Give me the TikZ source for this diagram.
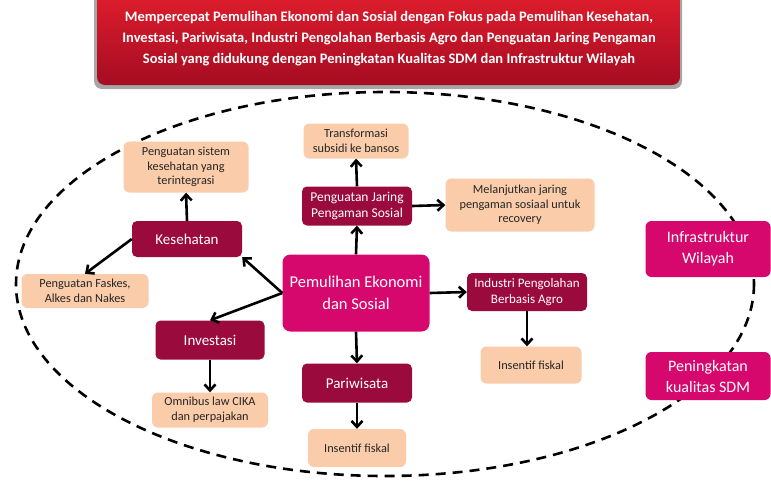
\documentclass[tikz,border=0pt]{standalone}
\usepackage{fontspec}
\setmainfont{Carlito}
\usetikzlibrary{arrows.meta}

\definecolor{peach}{RGB}{250,204,170}
\definecolor{crimson}{RGB}{155,10,60}
\definecolor{pinkish}{RGB}{214,8,110}
\definecolor{bannertop}{RGB}{225,30,45}
\definecolor{bannerbot}{RGB}{165,12,35}

\begin{document}
\begin{tikzpicture}[x=1pt, y=-1pt, >={Straight Barb[length=6pt,width=11pt]},
  note/.style={fill=peach, rounded corners=6pt, align=center, inner sep=1pt, font=\fontsize{12.3}{14.5}\selectfont, text=black!85},
  branch/.style={fill=crimson, rounded corners=5pt, align=center, inner sep=1pt, text=white, font=\fontsize{15}{18}\selectfont},
  hub/.style={fill=pinkish, rounded corners=8pt, align=center, inner sep=1pt, text=white, font=\fontsize{16.5}{22}\selectfont},
  link/.style={->, line width=2.6pt, black}]
  \useasboundingbox (0,0) rectangle (771,480);

  % banner
  \fill [black!35, rounded corners=8pt] (94,-10) rectangle (682,89);
  \shade [top color=bannertop, bottom color=bannerbot, rounded corners=8pt] (97,-10) rectangle (680,85);
  \node [text=white, align=center, font=\bfseries\fontsize{14.5}{21}\selectfont] (title) at (389,39)
    {Mempercepat Pemulihan Ekonomi dan Sosial dengan Fokus pada Pemulihan Kesehatan,\\
     Investasi, Pariwisata, Industri Pengolahan Berbasis Agro dan Penguatan Jaring Pengaman\\
     Sosial yang didukung dengan Peningkatan Kualitas SDM dan Infrastruktur Wilayah};

  % dashed frame
  \draw [line width=2.6pt, dash pattern=on 10pt off 7pt] (385,284) ellipse [x radius=369, y radius=192];

  % centre
  \node [hub, minimum width=147pt, minimum height=77pt] (pes) at (356,293) {Pemulihan Ekonomi\\dan Sosial};

  % kesehatan
  \node [branch, minimum width=110pt, minimum height=36pt] (kes) at (187,239) {Kesehatan};
  \node [note, minimum width=125pt, minimum height=51pt] (kesup) at (186,167) {Penguatan sistem\\kesehatan yang\\terintegrasi};
  \node [note, minimum width=127pt, minimum height=34pt] (faskes) at (85,291) {Penguatan Faskes,\\Alkes dan Nakes};

  % investasi
  \node [branch, minimum width=109pt, minimum height=39pt] (inv) at (210,340) {Investasi};
  \node [note, minimum width=116pt, minimum height=35pt] (omni) at (210,410) {Omnibus law CIKA\\dan perpajakan};

  % pariwisata
  \node [branch, minimum width=110pt, minimum height=39pt] (pari) at (357,383) {Pariwisata};
  \node [note, minimum width=98pt, minimum height=38pt] (parifis) at (357,448) {Insentif fiskal};

  % jaring pengaman
  \node [branch, minimum width=110pt, minimum height=39pt, font=\fontsize{13.5}{16.5}\selectfont] (jps) at (357,206) {Penguatan Jaring\\Pengaman Sosial};
  \node [note, minimum width=105pt, minimum height=35pt] (trans) at (356,141) {Transformasi\\subsidi ke bansos};
  \node [note, minimum width=149pt, minimum height=53pt] (lanjut) at (520,205) {Melanjutkan jaring\\pengaman sosiaal untuk\\recovery};

  % industri
  \node [branch, minimum width=120pt, minimum height=38pt, font=\fontsize{13}{16.5}\selectfont] (agro) at (527,292) {Industri Pengolahan\\Berbasis Agro};
  \node [note, minimum width=101pt, minimum height=37pt] (agrofis) at (531,365) {Insentif fiskal};

  % pendukung
  \node [hub, rounded corners=6pt, minimum width=125pt, minimum height=56pt, font=\fontsize{16}{21}\selectfont] (infra) at (708,249) {Infrastruktur\\Wilayah};
  \node [hub, rounded corners=6pt, minimum width=125pt, minimum height=48pt, font=\fontsize{16}{21}\selectfont] (sdm) at (708,376) {Peningkatan\\kualitas SDM};

  % arrows
  \draw [link] (pes.west) -- (kes.south east);
  \draw [link] (pes.west) -- (inv.north);
  \draw [link] (pes.south) -- (pari.north);
  \draw [link] (pes.north) -- (jps.south);
  \draw [link] (pes.east) -- (agro.west);
  \draw [link] (kes.north) -- (kesup.south);
  \draw [link] (kes.west) -- (faskes.north);
  \draw [link] (inv.south) -- (omni.north);
  \draw [link] (pari.south) -- (parifis.north);
  \draw [link] (jps.north) -- (trans.south);
  \draw [link] (jps.east) -- (lanjut.west);
  \draw [link] (agro.south) -- (agro.south |- agrofis.north);
\end{tikzpicture}
\end{document}
